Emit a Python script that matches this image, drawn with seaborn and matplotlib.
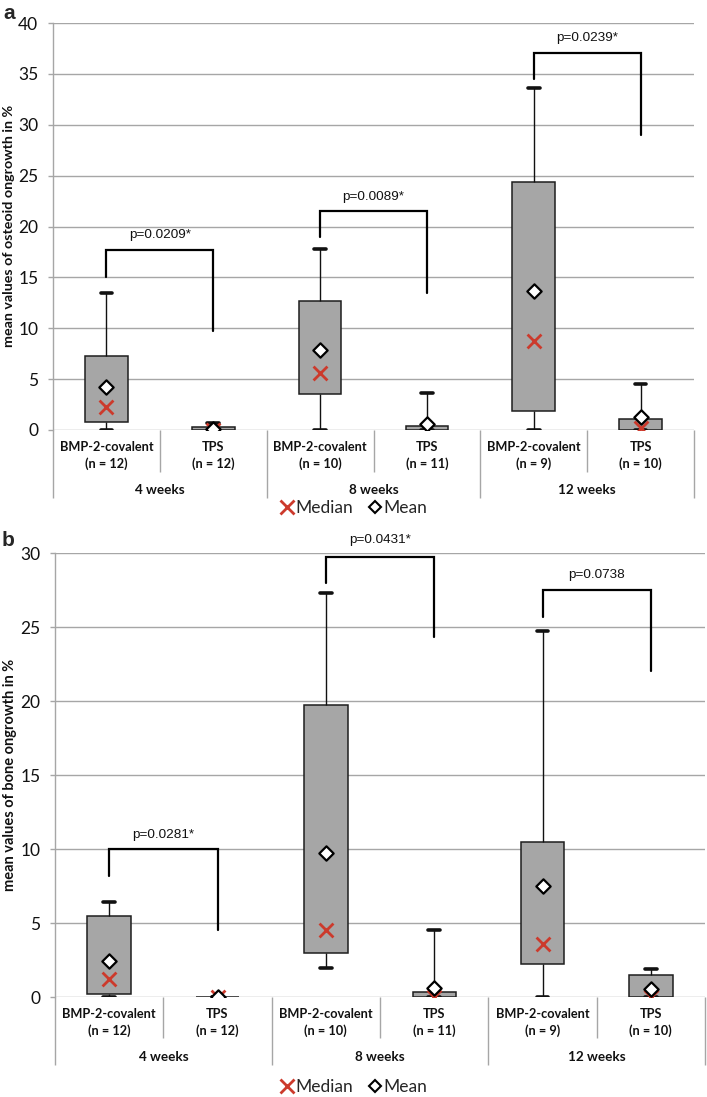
import numpy as np
import pandas as pd
import matplotlib
matplotlib.use("Agg")
import matplotlib.pyplot as plt
import matplotlib.transforms as mtrans
from matplotlib.lines import Line2D
import seaborn as sns

# ---------------- data ----------------
groups = ["BMP-2-covalent\n(n = 12)", "TPS\n(n = 12)",
          "BMP-2-covalent\n(n = 10)", "TPS\n(n = 11)",
          "BMP-2-covalent\n(n = 9)", "TPS\n(n = 10)"]
weeks = ["4 weeks", "8 weeks", "12 weeks"]

# panel a: osteoid ongrowth
a_low = [0.0, 0.0, 0.0, 0.0, 0.0, 0.0]
a_q1 = [0.8, 0.0, 3.5, 0.0, 1.9, 0.0]
a_q3 = [7.3, 0.3, 12.7, 0.4, 24.4, 1.1]
a_high = [13.5, 0.7, 17.8, 3.6, 33.6, 4.5]
a_median = [2.3, 0.0, 5.6, 0.0, 8.7, 0.2]
a_mean = [4.2, 0.1, 7.9, 0.6, 13.7, 1.3]
a_pvals = ["p=0.0209*", "p=0.0089*", "p=0.0239*"]
a_bar_y = [17.7, 21.5, 37.1]
a_left_y = [15.0, 19.0, 34.5]
a_right_y = [9.7, 13.5, 29.0]
a_text_y = [19.2, 22.9, 38.5]
a_yticks = [0, 5, 10, 15, 20, 25, 30, 35, 40]

# panel b: bone ongrowth
b_low = [0.0, 0.0, 1.95, 0.0, 0.0, 0.0]
b_q1 = [0.2, 0.0, 3.0, 0.0, 2.2, 0.0]
b_q3 = [5.5, 0.0, 19.7, 0.35, 10.5, 1.5]
b_high = [6.4, 0.0, 27.3, 4.5, 24.7, 1.9]
b_median = [1.2, 0.0, 4.5, 0.0, 3.6, 0.0]
b_mean = [2.4, 0.0, 9.7, 0.6, 7.5, 0.55]
b_pvals = ["p=0.0281*", "p=0.0431*", "p=0.0738"]
b_bar_y = [10.0, 29.7, 27.5]
b_left_y = [8.2, 28.0, 25.7]
b_right_y = [4.5, 24.3, 22.0]
b_text_y = [10.95, 30.9, 28.5]
b_yticks = [0, 5, 10, 15, 20, 25, 30]

# ---------------- style ----------------
sns.set_theme(style="white")
plt.rcParams["font.family"] = ["Lato", "DejaVu Sans"]

W, H = 707, 1097
GRID = "#A6A6A6"
BOX = "#A6A6A6"
RED = "#CC3A2C"

fig = plt.figure(figsize=(W / 100, H / 100), dpi=100)


def px_axes(l, r, t, b):
    return fig.add_axes([l / W, 1 - b / H, (r - l) / W, (b - t) / H])


def draw_panel(ax, bottom_px, height_px, low, q1, q3, high, med, mean,
               pvals, bar_y, left_y, right_y, text_y, yticks,
               lab_y1, sep_short, sep_long, group_y):
    # five-number summaries as long-form data (lo, q1, median, q3, hi)
    rows = []
    for g, lo, a, m, b, hi in zip(groups, low, q1, med, q3, high):
        m_box = min(max(m, a), b)
        for v in (lo, a, m_box, b, hi):
            rows.append({"group": g, "value": v})
    df = pd.DataFrame(rows)
    sdf = pd.DataFrame({"group": groups, "median": med, "mean": mean})

    sns.boxplot(data=df, x="group", y="value", order=groups, whis=np.inf,
                width=0.4, color=BOX, saturation=1, linecolor="#1e1e1e",
                linewidth=1.1, showfliers=False,
                medianprops={"visible": False},
                capprops={"linewidth": 2.6, "color": "#111111"},
                whiskerprops={"linewidth": 1.0, "color": "#111111"},
                capwidths=0.11, ax=ax)
    sns.stripplot(data=sdf, x="group", y="median", order=groups, jitter=False,
                  marker="x", color=RED, size=10, linewidth=2.0, zorder=5,
                  ax=ax)
    sns.stripplot(data=sdf, x="group", y="mean", order=groups, jitter=False,
                  marker="D", color="white", edgecolor="black", linewidth=1.6,
                  size=7.3, zorder=6, ax=ax)

    ax.set_xlim(-0.5, len(groups) - 0.5)
    ax.set_ylim(0, yticks[-1])
    ax.set_yticks(yticks)
    ax.set_axisbelow(True)
    ax.yaxis.grid(True, color=GRID, linewidth=1.0)
    for s in ("top", "right", "bottom"):
        ax.spines[s].set_visible(False)
    ax.spines["left"].set_color(GRID)
    ax.spines["left"].set_linewidth(1.0)
    ax.tick_params(axis="y", which="both", left=True, length=3.6, width=1,
                   color=GRID, labelsize=12.5, labelcolor="#111111", pad=7)
    ax.set_xlabel("")
    ax.set_ylabel("")
    ax.set_xticks([])

    def fy(ypx):
        return (bottom_px - ypx) / height_px

    tr = mtrans.blended_transform_factory(ax.transData, ax.transAxes)
    # category labels
    for i, g in enumerate(groups):
        ax.text(i, fy(lab_y1), g, transform=tr, ha="center", va="center",
                fontsize=9.2, fontweight="bold", color="#111111",
                linespacing=1.35, clip_on=False)
    # separators
    for k in range(len(groups) + 1):
        x = k - 0.5
        yend = sep_long if k % 2 == 0 else sep_short
        ax.plot([x, x], [0, fy(yend)], transform=tr, color=GRID, lw=1.0,
                clip_on=False, solid_capstyle="butt")
    for j, w in enumerate(weeks):
        ax.text(2 * j + 0.5, fy(group_y), w, transform=tr, ha="center",
                va="center", fontsize=9.7, fontweight="bold", color="#111111",
                clip_on=False)
    # significance brackets
    for j in range(len(pvals)):
        x0, x1 = 2 * j, 2 * j + 1
        ax.plot([x0, x0, x1, x1], [left_y[j], bar_y[j], bar_y[j], right_y[j]],
                color="black", lw=1.6, clip_on=False, zorder=7,
                solid_joinstyle="miter")
        ax.text(x0 + 0.5, text_y[j], pvals[j], ha="center", va="center",
                fontsize=9.7, family=["Liberation Sans", "DejaVu Sans"],
                color="#111111", clip_on=False)


def legend_at(ypx):
    handles = [
        Line2D([], [], marker="x", color=RED, ls="none", markersize=10,
               markeredgewidth=2.0),
        Line2D([], [], marker="D", markerfacecolor="white",
               markeredgecolor="black", ls="none", markersize=6.5,
               markeredgewidth=1.5),
    ]
    fig.legend(handles, ["Median", "Mean"], loc="center",
               bbox_to_anchor=(354 / W, 1 - ypx / H), ncol=2, frameon=False,
               handlelength=0.7, handletextpad=0.15, columnspacing=0.9,
               fontsize=12.5, borderaxespad=0, borderpad=0)


def ylabel_at(xpx, ypx, text, size):
    fig.text(xpx / W, 1 - ypx / H, text, rotation=90, ha="center",
             va="center", fontsize=size, fontweight="bold", color="#111111")


# ---------------- panel a ----------------
ax_a = px_axes(53, 694, 23, 430)
draw_panel(ax_a, 430, 407, a_low, a_q1, a_q3, a_high, a_median, a_mean,
           a_pvals, a_bar_y, a_left_y, a_right_y, a_text_y, a_yticks,
           455.5, 472, 498, 490)
ylabel_at(9, 226, "mean values of osteoid ongrowth in %", 10.3)
legend_at(508)
fig.text(3 / W, 1 - 19 / H, "a", fontsize=15, fontweight="bold",
         family=["Liberation Sans", "DejaVu Sans"], va="baseline",
         ha="left")

# ---------------- panel b ----------------
ax_b = px_axes(55, 705, 553, 997)
draw_panel(ax_b, 997, 444, b_low, b_q1, b_q3, b_high, b_median, b_mean,
           b_pvals, b_bar_y, b_left_y, b_right_y, b_text_y, b_yticks,
           1022.5, 1038, 1065, 1057)
ylabel_at(10, 775, "mean values of bone ongrowth in %", 10.5)
legend_at(1087)
fig.text(2 / W, 1 - 546 / H, "b", fontsize=15, fontweight="bold",
         family=["Liberation Sans", "DejaVu Sans"], va="baseline",
         ha="left")

fig.savefig("out.png", dpi=100)
